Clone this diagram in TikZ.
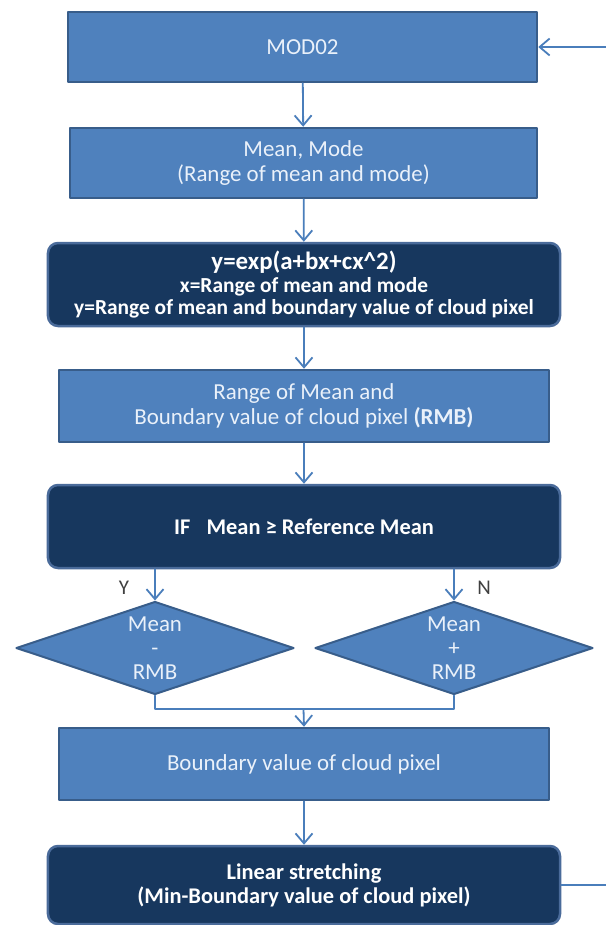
\documentclass[tikz,border=0pt]{standalone}
\usepackage{fontspec}
\setmainfont{Carlito}
\usetikzlibrary{arrows.meta,shapes.geometric}
\definecolor{flowblue}{HTML}{4F81BD}
\definecolor{flowedge}{HTML}{385D8A}
\definecolor{flownavy}{HTML}{17375E}
\definecolor{flownavyedge}{HTML}{4A6B9A}
\definecolor{flowtext}{HTML}{EAF1FA}
\definecolor{flowline}{HTML}{4A7EBB}

\begin{document}
\begin{tikzpicture}[x=1bp,y=-1bp,>={Straight Barb[length=10bp,width=17bp]},line cap=round,line join=round,
  font=\fontsize{23}{25}\selectfont,
  box/.style={rectangle,draw=flowedge,line width=2.5bp,fill=flowblue,text=flowtext,align=center,inner sep=0pt},
  darkbox/.style={rectangle,rounded corners=10bp,draw=flownavyedge,line width=2.5bp,fill=flownavy,text=white,align=center,inner sep=0pt,font=\fontsize{22.5}{24}\selectfont\bfseries},
  decision/.style={diamond,draw=flowedge,line width=2bp,fill=flowblue,inner sep=0pt,minimum width=278bp,minimum height=93bp},
  flow/.style={->,flowline,line width=1.8bp},
  yn/.style={text=black!75,font=\fontsize{21}{22}\selectfont}]
\path[use as bounding box] (0,0) rectangle (606,925);
\fill[white] (0,0) rectangle (606,925);
% boxes of the main column
\node[box,minimum width=469bp,minimum height=70bp] (mod) at (302.5,47) {MOD02};
\node[box,minimum width=467bp,minimum height=70bp] (mean) at (303.5,163) {Mean, Mode\\(Range of mean and mode)};
\node[darkbox,minimum width=512bp,minimum height=83bp,font=\fontsize{21.5}{24}\selectfont\bfseries] (fit) at (304,284.5)
  {{\fontsize{25}{24}\selectfont y=exp(a+bx+cx\textasciicircum2)}\\[-1bp]
   x=Range of mean and mode\\[-2bp]
   y=Range of mean and boundary value of cloud pixel};
\node[box,minimum width=490bp,minimum height=72bp] (rmb) at (304,406)
  {Range of Mean and\\Boundary value of cloud pixel \textbf{(RMB)}};
\node[darkbox,minimum width=512bp,minimum height=83bp] (cond) at (304,526.5) {IF\enspace\ Mean ≥ Reference Mean};
% the two branches
\node[decision] (minus) at (155,648) {};
\node[decision] (plus) at (454,648) {};
\node[text=flowtext,align=center,font=\fontsize{23}{24}\selectfont] (minustxt) at (minus) {Mean\\-\\RMB};
\node[text=flowtext,align=center,font=\fontsize{23}{24}\selectfont] (plustxt) at (plus) {Mean\\+\\RMB};
\node[yn] (ylbl) at (124,588) {Y};
\node[yn] (nlbl) at (484,588) {N};
\node[box,minimum width=490bp,minimum height=72bp] (bnd) at (304,764) {Boundary value of cloud pixel};
\node[darkbox,minimum width=512bp,minimum height=78bp] (lin) at (304,885)
  {Linear stretching\\(Min-Boundary value of cloud pixel)};
\coordinate (loopin) at (606,47);
\coordinate (loopout) at (606,885);
\coordinate (join) at (303.5,709);
% connectors
\draw[flow] (loopin) -- (mod.east);
\draw[flow] (mod) -- (mean);
\draw[flow] (mean) -- (fit);
\draw[flow] (fit) -- (rmb);
\draw[flow] (rmb) -- (cond);
\draw[flow] (cond.south -| minus) -- (minus.north);
\draw[flow] (cond.south -| plus) -- (plus.north);
\draw[flowline,line width=1.8bp] (minus.south) |- (join) -| (plus.south);
\draw[flow] (join) -- (bnd.north);
\draw[flow] (bnd) -- (lin);
\draw[flowline,line width=1.8bp] (lin.east) -- (loopout);
\end{tikzpicture}
\end{document}
